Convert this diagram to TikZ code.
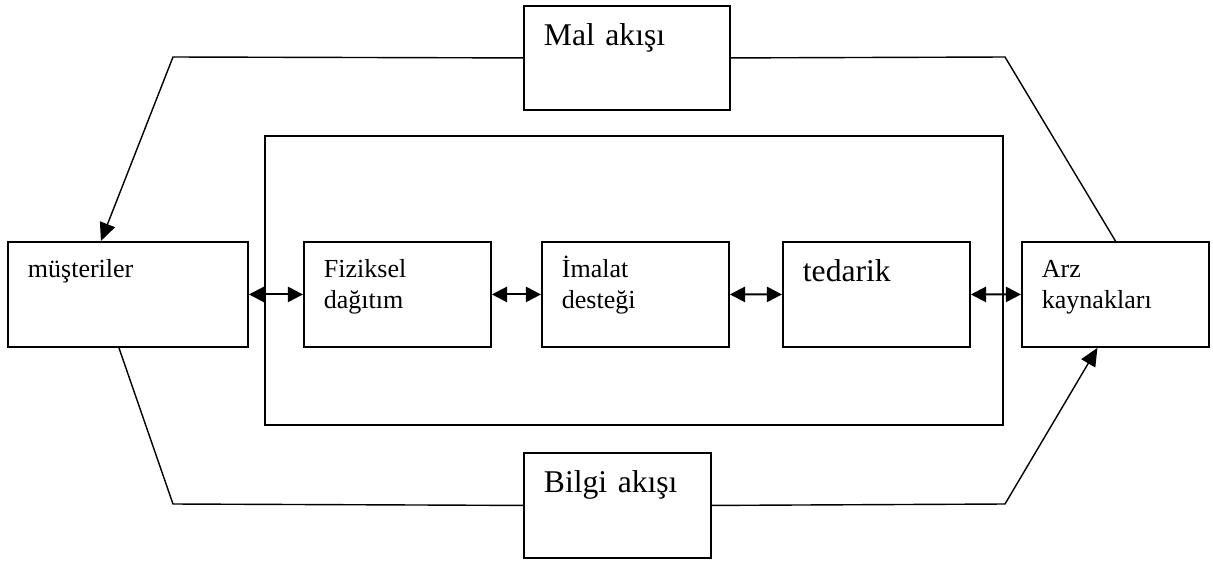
\documentclass[tikz,border=0pt]{standalone}
\usepackage{fontspec}
\setmainfont{Liberation Serif}
\usetikzlibrary{arrows.meta}

\begin{document}
\begin{tikzpicture}[x=0.025cm, y=-0.025cm,
    kutu/.style={draw, line width=1.3pt, rectangle, anchor=north west, align=left,
        inner xsep=0.5cm, inner ysep=0pt, text width=3.675cm,
        font=\fontsize{18.5}{22}\selectfont, text height=0.9cm, text depth=1.725cm},
    buyuk/.style={font=\fontsize{22.5}{27}\selectfont, text height=1cm, text depth=1.625cm},
    akis/.style={line width=1pt},
    ucgen/.style={-{Triangle[length=0.45cm, width=0.4cm]}},
    ciftok/.style={line width=1.5pt, {Triangle[length=0.38cm, width=0.38cm]}-{Triangle[length=0.38cm, width=0.38cm]}}]
    \useasboundingbox (0, 0) rectangle (1213, 561);

    \node[kutu, text width=5cm] at (7, 241) (mus) {müşteriler};
    \node[kutu] at (303, 241) (fiz) {Fiziksel\\dağıtım};
    \node[kutu] at (541, 241) (ima) {İmalat\\desteği};
    \node[kutu, buyuk] at (782, 241) (ted) {tedarik};
    \node[kutu] at (1021, 241) (arz) {Arz\\kaynakları};
    \node[kutu, buyuk, text width=4.15cm, text depth=1.6cm] at (523, 5) (mal) {Mal akışı};
    \node[kutu, buyuk] at (523, 452) (bil) {Bilgi akışı};

    % ic cerceve
    \draw[line width=1.3pt] (265, 136) rectangle (1003, 425);

    \coordinate (solUst) at (173, 57);
    \coordinate (sagUst) at (1005, 57);
    \coordinate (solAlt) at (173, 504);
    \coordinate (sagAlt) at (1005, 504);

    \draw[akis] (arz.north) -- (sagUst) -- (mal.east);
    \draw[akis, ucgen] (mal.west) -- (solUst) -- ([xshift=-0.675cm]mus.north);
    \draw[akis] ([xshift=-0.225cm]mus.south) -- (solAlt) -- (bil.west);
    \draw[akis, ucgen] (bil.east) -- (sagAlt) -- ([xshift=-0.45cm]arz.south);

    \draw[ciftok] (mus) -- (fiz);
    \draw[ciftok] (fiz) -- (ima);
    \draw[ciftok] (ima) -- (ted);
    \draw[ciftok] (ted) -- (arz);
\end{tikzpicture}
\end{document}
